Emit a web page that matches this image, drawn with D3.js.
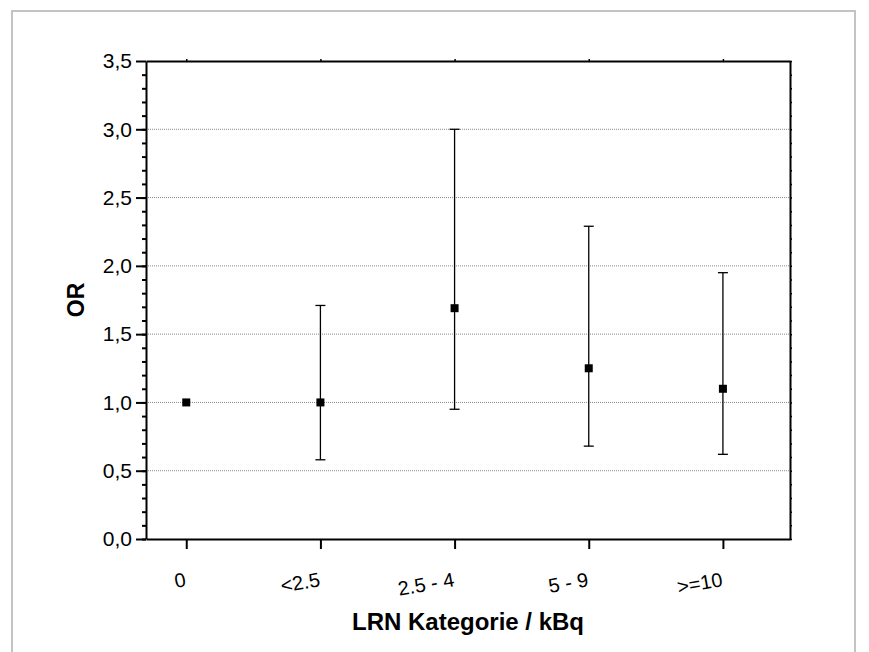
<!DOCTYPE html>
<html>
<head>
<meta charset="utf-8">
<script src="https://cdn.jsdelivr.net/npm/d3@7"></script>
<style>
  body { margin: 0; background: #fff; }
  svg { display: block; font-family: "Liberation Sans", Arial, sans-serif; }
  .y-axis text { font-size: 21px; font-family: "Liberation Sans", Arial, sans-serif; fill: #000; }
  .x-axis text { font-size: 20px; font-family: "Liberation Sans", Arial, sans-serif; fill: #000; }
</style>
</head>
<body>
<script>
// OR per LRN category, with 95% CI
const categories = ["0", "<2.5", "2.5 - 4", "5 - 9", ">=10"];
const orValues = [1.0, 1.0, 1.69, 1.25, 1.10];
const ciLower = [null, 0.58, 0.95, 0.68, 0.62];
const ciUpper = [null, 1.71, 3.0, 2.29, 1.95];
const yTicks = [0, 0.5, 1.0, 1.5, 2.0, 2.5, 3.0, 3.5];
const yMinorTicks = d3.range(0, 35).map(i => i / 10);

const w = 869;
const h = 652;
const margin = { left: 146, top: 61, right: 79, bottom: 113 };
const font = "'Liberation Sans', Arial, sans-serif";

const svg = d3.select("body").append("svg")
  .attr("width", w)
  .attr("height", h);

// outer frame
svg.append("path")
  .attr("d", `M12,${h + 5}V11H855V${h + 5}`)
  .attr("fill", "none")
  .attr("stroke", "#c3c3c3")
  .attr("stroke-width", 2);

const xScale = d3.scaleLinear()
  .domain([-0.3, 4.5])
  .range([margin.left, w - margin.right]);

const yScale = d3.scaleLinear()
  .domain([0, 3.5])
  .range([h - margin.bottom, margin.top]);

const fmt = d => d3.format(".1f")(d).replace(".", ",");

// grid lines
svg.append("g")
  .selectAll("line")
  .data(yTicks.filter(d => d > 0 && d < 3.5))
  .enter()
  .append("line")
  .attr("x1", xScale.range()[0])
  .attr("x2", xScale.range()[1])
  .attr("y1", d => yScale(d))
  .attr("y2", d => yScale(d))
  .attr("stroke", "#8a8a8a")
  .attr("stroke-dasharray", "1,1");

// left axis, minor then major
svg.append("g")
  .attr("transform", `translate(${margin.left},0)`)
  .call(d3.axisLeft(yScale).tickValues(yMinorTicks).tickSize(4).tickFormat(""))
  .call(g => g.select(".domain").remove())
  .call(g => g.selectAll("line").attr("stroke-width", 2));

svg.append("g")
  .attr("class", "y-axis")
  .attr("transform", `translate(${margin.left},0)`)
  .call(d3.axisLeft(yScale).tickValues(yTicks).tickSize(10).tickSizeOuter(0).tickPadding(4).tickFormat(fmt))
  .call(g => g.select(".domain").attr("stroke-width", 2))
  .call(g => g.selectAll("line").attr("stroke-width", 2));

// right axis
svg.append("g")
  .attr("transform", `translate(${w - margin.right},0)`)
  .call(d3.axisRight(yScale).tickValues(yMinorTicks.concat([3.5])).tickSize(2).tickSizeOuter(0).tickFormat(""))
  .call(g => g.select(".domain").attr("stroke-width", 2))
  .call(g => g.selectAll("line").attr("stroke-width", 1.5));

// top axis
svg.append("g")
  .attr("transform", `translate(0,${margin.top})`)
  .call(d3.axisTop(xScale).tickValues(d3.range(categories.length)).tickSize(2).tickSizeOuter(0).tickFormat(""))
  .call(g => g.select(".domain").attr("stroke-width", 2))
  .call(g => g.selectAll("line").attr("stroke-width", 1.5));

// bottom axis
svg.append("g")
  .attr("class", "x-axis")
  .attr("transform", `translate(0,${h - margin.bottom})`)
  .call(d3.axisBottom(xScale).tickValues(d3.range(categories.length)).tickSize(10).tickSizeOuter(0).tickFormat(i => categories[i]))
  .call(g => g.select(".domain").attr("stroke-width", 2))
  .call(g => g.selectAll("line").attr("stroke-width", 2))
  .call(g => g.selectAll("text")
    .attr("text-anchor", "end")
    .attr("y", 0)
    .attr("dy", 0)
    .attr("transform", "translate(0,47) rotate(-10)"));

// error bars
const points = categories.map((c, i) => ({
  i: i,
  value: orValues[i],
  lo: ciLower[i],
  hi: ciUpper[i]
}));

const bars = svg.append("g")
  .selectAll("g")
  .data(points.filter(d => d.lo !== null))
  .enter()
  .append("g")
  .attr("stroke", "#000")
  .attr("stroke-width", 1.3);

bars.append("line")
  .attr("x1", d => xScale(d.i))
  .attr("x2", d => xScale(d.i))
  .attr("y1", d => yScale(d.lo))
  .attr("y2", d => yScale(d.hi));

bars.append("line")
  .attr("x1", d => xScale(d.i) - 5)
  .attr("x2", d => xScale(d.i) + 5)
  .attr("y1", d => yScale(d.hi))
  .attr("y2", d => yScale(d.hi));

bars.append("line")
  .attr("x1", d => xScale(d.i) - 5)
  .attr("x2", d => xScale(d.i) + 5)
  .attr("y1", d => yScale(d.lo))
  .attr("y2", d => yScale(d.lo));

// points
const s = 8;
svg.append("g")
  .selectAll("rect")
  .data(points)
  .enter()
  .append("rect")
  .attr("x", d => xScale(d.i) - s / 2)
  .attr("y", d => yScale(d.value) - s / 2)
  .attr("width", s)
  .attr("height", s)
  .attr("fill", "#000");

// axis titles
svg.append("text")
  .attr("x", (xScale.range()[0] + xScale.range()[1]) / 2)
  .attr("y", 630)
  .attr("text-anchor", "middle")
  .attr("font-family", font)
  .attr("font-size", 24)
  .attr("font-weight", "bold")
  .text("LRN Kategorie / kBq");

svg.append("text")
  .attr("transform", `translate(84,${yScale(1.75)}) rotate(-90)`)
  .attr("text-anchor", "middle")
  .attr("font-family", font)
  .attr("font-size", 23)
  .attr("font-weight", "bold")
  .text("OR");
</script>
</body>
</html>
